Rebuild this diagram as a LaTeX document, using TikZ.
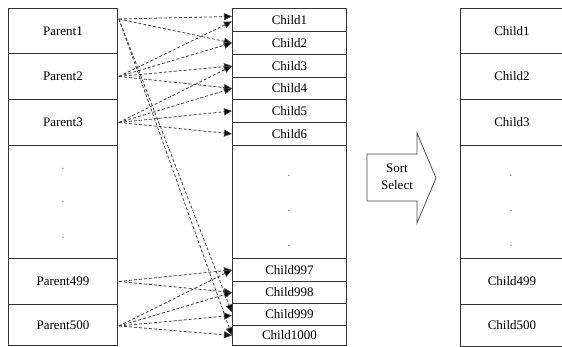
\documentclass[tikz,border=0pt]{standalone}
\usepackage{fontspec}
\setmainfont{Liberation Serif}
\usetikzlibrary{arrows.meta,calc}
\begin{document}
\begin{tikzpicture}[x=1pt,y=-1pt,
  cell/.style={draw=black!80,line width=0.9pt,rectangle,anchor=north west,inner sep=0pt,
    font=\fontsize{13}{15}\selectfont},
  lcell/.style={cell,minimum width=109pt},
  mcell/.style={cell,minimum width=114pt},
  rcell/.style={cell,minimum width=103pt},
  dotmark/.style={font=\fontsize{13}{15}\selectfont,text=black!50,inner sep=0pt},
  conn/.style={dashed,dash pattern=on 3pt off 2pt,draw=black!75,line width=0.8pt,
    -{Triangle[length=8pt,width=7pt,fill=black]}}
]
\useasboundingbox (0,0) rectangle (562,347);
% left column
\node[lcell,minimum height=45pt] (p1) at (8,8) {Parent1};
\node[lcell,minimum height=46pt] (p2) at (8,53) {Parent2};
\node[lcell,minimum height=46pt] (p3) at (8,99) {Parent3};
\node[lcell,minimum height=113pt] (pd) at (8,145) {};
\node[lcell,minimum height=46pt] (p499) at (8,258) {Parent499};
\node[lcell,minimum height=41pt] (p500) at (8,304) {Parent500};
\node[dotmark] (pd1) at (63,169) {.};
\node[dotmark] (pd2) at (63,202) {.};
\node[dotmark] (pd3) at (63,238) {.};
% middle column
\node[mcell,minimum height=23pt] (c1) at (232,8) {Child1};
\node[mcell,minimum height=23pt] (c2) at (232,31) {Child2};
\node[mcell,minimum height=23pt] (c3) at (232,54) {Child3};
\node[mcell,minimum height=22pt] (c4) at (232,77) {Child4};
\node[mcell,minimum height=23pt] (c5) at (232,99) {Child5};
\node[mcell,minimum height=23pt] (c6) at (232,122) {Child6};
\node[mcell,minimum height=113pt] (cd) at (232,145) {};
\node[mcell,minimum height=23pt] (c997) at (232,258) {Child997};
\node[mcell,minimum height=22pt] (c998) at (232,281) {Child998};
\node[mcell,minimum height=22pt] (c999) at (232,303) {Child999};
\node[mcell,minimum height=20pt] (c1000) at (232,325) {Child1000};
\node[dotmark] (cd1) at (289,176) {.};
\node[dotmark] (cd2) at (289,211) {.};
\node[dotmark] (cd3) at (289,246) {.};
% right column
\node[rcell,minimum height=45pt] (r1) at (460,8) {Child1};
\node[rcell,minimum height=46pt] (r2) at (460,53) {Child2};
\node[rcell,minimum height=46pt] (r3) at (460,99) {Child3};
\node[rcell,minimum height=113pt] (rd) at (460,145) {};
\node[rcell,minimum height=46pt] (r499) at (460,258) {Child499};
\node[rcell,minimum height=42pt] (r500) at (460,304) {Child500};
\node[dotmark] (rd1) at (511,176) {.};
\node[dotmark] (rd2) at (511,211) {.};
\node[dotmark] (rd3) at (511,246) {.};
% block arrow
\draw[draw=black!70,line width=0.8pt,fill=white]
  (367,154) -- (417,154) -- (417,133) -- (436,178) -- (417,223) -- (417,201) -- (367,201) -- cycle;
\node[font=\fontsize{13}{17}\selectfont,align=center,inner sep=0pt] (sort) at (397,177) {Sort\\Select};
% connector endpoints
\coordinate (p1s) at ($(p1.north east)+(1,11)$);
\coordinate (p2s) at ($(p2.east)+(1,0)$);
\coordinate (p3s) at ($(p3.east)+(1,0)$);
\coordinate (p499s) at ($(p499.east)+(1,0)$);
\coordinate (p500s) at ($(p500.east)+(1,1)$);
\coordinate (c1a) at ($(c1.west)+(0,-3.5)$);
\coordinate (c1b) at ($(c1.west)+(0,1.5)$);
\coordinate (c999a) at ($(c999.west)+(0,-2)$);
\coordinate (c999b) at ($(c999.west)+(0,1)$);
% connectors
\draw[conn] (p1s) -- (c1a);
\draw[conn] (p1s) -- (c2.west);
\draw[conn] (p1s) -- (c999a);
\draw[conn] (p1s) -- (c1000.west);
\draw[conn] (p2s) -- (c1b);
\draw[conn] (p2s) -- (c2.west);
\draw[conn] (p2s) -- (c3.west);
\draw[conn] (p2s) -- (c4.west);
\draw[conn] (p3s) -- (c3.west);
\draw[conn] (p3s) -- (c4.west);
\draw[conn] (p3s) -- (c5.west);
\draw[conn] (p3s) -- (c6.west);
\draw[conn] (p499s) -- (c997.west);
\draw[conn] (p499s) -- (c998.west);
\draw[conn] (p500s) -- (c997.west);
\draw[conn] (p500s) -- (c998.west);
\draw[conn] (p500s) -- (c999b);
\draw[conn] (p500s) -- (c1000.west);
\end{tikzpicture}
\end{document}
